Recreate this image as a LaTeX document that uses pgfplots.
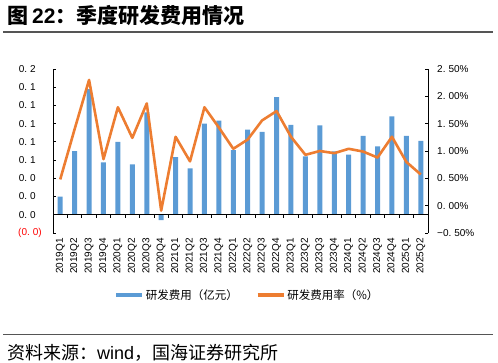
\documentclass[border=0pt]{standalone}
\usepackage{pgfplots}
\pgfplotsset{compat=1.18}
\usepackage{fontspec}
\setmainfont{Liberation Sans}
\newfontfamily\cjk{Noto Sans CJK SC}
\definecolor{barblue}{RGB}{91,155,213}
\definecolor{lineorange}{RGB}{237,125,49}
\definecolor{rulegray}{RGB}{85,85,85}
\newcommand{\dn}[2]{#1.\hspace{0.3em}#2}
\begin{document}
\begin{tikzpicture}
\path[use as bounding box] (0,0) rectangle (498pt,362pt);
\pgfplotsset{base/.style={at={(53pt,129pt)}, anchor=south west, scale only axis,
  width=375pt, height=164pt, xmin=-0.5, xmax=25.5, tick align=inside,
  major tick length=3pt, axis line style={black, line width=0.8pt},
  tick style={black, line width=0.8pt}}}
\begin{axis}[base, ymin=-0.02, ymax=0.16,
  axis y line*=left, axis x line*=bottom, x axis line style={draw=none},
  xtick={0,...,25},
  xticklabels={2019Q1,2019Q2,2019Q3,2019Q4,2020Q1,2020Q2,2020Q3,2020Q4,2021Q1,2021Q2,2021Q3,2021Q4,2022Q1,2022Q2,2022Q3,2022Q4,2023Q1,2023Q2,2023Q3,2023Q4,2024Q1,2024Q2,2024Q3,2024Q4,2025Q1,2025Q2},
  xtick style={draw=none},
  xticklabel style={rotate=90, anchor=east, inner sep=0pt, font=\fontsize{10}{12}\selectfont},
  xticklabel shift=5pt,
  ytick={-0.02,0,0.02,0.04,0.06,0.08,0.1,0.12,0.14,0.16},
  yticklabels={\textcolor{red}{(\dn{0}{0})},\dn{0}{0}\kern6pt,\dn{0}{0}\kern6pt,\dn{0}{0}\kern6pt,\dn{0}{1}\kern6pt,\dn{0}{1}\kern6pt,\dn{0}{1}\kern6pt,\dn{0}{1}\kern6pt,\dn{0}{1}\kern6pt,\dn{0}{2}\kern6pt},
  yticklabel style={anchor=east, inner sep=0pt, xshift=-11pt, font=\fontsize{10}{12}\selectfont}]
\addplot[ybar, bar width=5pt, fill=barblue, draw=none, bar shift=0pt] coordinates {
(0,0.020) (1,0.070) (2,0.138) (3,0.0575) (4,0.080) (5,0.0553) (6,0.1125) (7,-0.006)
(8,0.0634) (9,0.051) (10,0.100) (11,0.1034) (12,0.071) (13,0.0935) (14,0.091) (15,0.129)
(16,0.0987) (17,0.064) (18,0.098) (19,0.0697) (20,0.066) (21,0.0866) (22,0.075) (23,0.108)
(24,0.0866) (25,0.081)};
\draw[black, line width=0.8pt] (axis cs:-0.5,0) -- (axis cs:25.5,0);
\pgfplotsinvokeforeach{-0.5,0.5,...,25.5}{\draw[black, line width=0.8pt] (axis cs:#1,0) -- ++(0pt,-3pt);}
\end{axis}
\begin{axis}[base, ymin=-0.5, ymax=2.5,
  axis y line*=right, hide x axis,
  ytick={-0.5,0,0.5,1,1.5,2,2.5},
  yticklabels={−\dn{0}{50}\%,\dn{0}{00}\%,\dn{0}{50}\%,\dn{1}{00}\%,\dn{1}{50}\%,\dn{2}{00}\%,\dn{2}{50}\%},
  yticklabel style={anchor=west, inner sep=0pt, xshift=9pt, font=\fontsize{10}{12}\selectfont},
  legend style={at={(0.163,-0.378)}, anchor=west, draw=none, fill=none, inner sep=0pt,
    font=\cjk\fontsize{11.5}{13}\selectfont, legend columns=2,
    /tikz/every even column/.append style={column sep=16pt}},
  legend image code/.code={\draw[#1, line width=3.5pt] (0pt,0pt) -- (26pt,0pt);}]
\addlegendimage{barblue}
\addlegendentry{研发费用（亿元）}
\addplot[lineorange, line width=2.6pt, line join=round, mark=none] coordinates {
(0,0.48) (1,1.40) (2,2.30) (3,0.85) (4,1.80) (5,1.24) (6,1.87) (7,-0.09)
(8,1.26) (9,0.81) (10,1.80) (11,1.43) (12,1.04) (13,1.21) (14,1.56) (15,1.73)
(16,1.26) (17,0.93) (18,1.00) (19,0.96) (20,1.04) (21,0.99) (22,0.88) (23,1.26)
(24,0.80) (25,0.57)};
\addlegendentry{研发费用率（\%）}
\end{axis}
\node[anchor=base west, inner sep=0pt] at (7pt,338pt) {\cjk\bfseries\fontsize{21}{24}\selectfont 图\hspace{4pt}{\rmfamily\bfseries 22}：季度研发费用情况};
\draw[rulegray, line width=1.3pt] (3pt,330pt) -- (493pt,330pt);
\draw[rulegray, line width=1.3pt] (3pt,27.3pt) -- (493pt,27.3pt);
\node[anchor=base west, inner sep=0pt] at (7pt,3pt) {\cjk\fontsize{18}{20}\selectfont 资料来源：{\rmfamily wind}，国海证券研究所};
\end{tikzpicture}
\end{document}
